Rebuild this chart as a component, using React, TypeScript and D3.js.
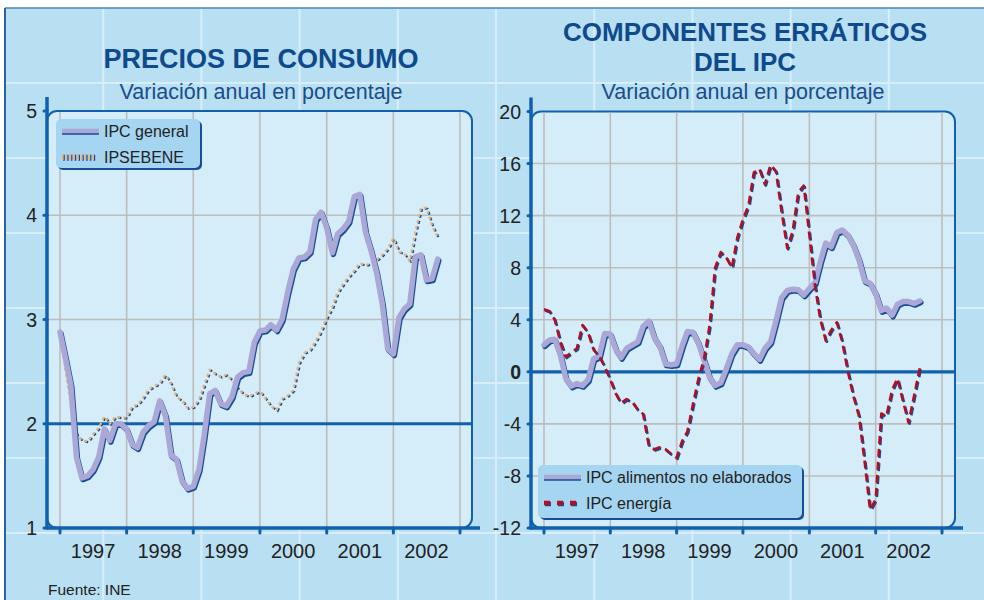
import React, { useRef, useEffect } from 'react';
import * as d3 from 'd3';

// Monthly data, Jan 1997 - Sep 2002 (annual % change)
const years = ['1997', '1998', '1999', '2000', '2001', '2002'];
const leftTicks = [1, 2, 3, 4, 5];
const rightTicks = [-12, -8, -4, 0, 4, 8, 12, 16, 20];

const ipcGeneral = [
  2.88, 2.62, 2.37, 1.68, 1.48, 1.5, 1.56, 1.68, 1.95, 1.84, 2.0, 2.0,
  1.95, 1.8, 1.77, 1.92, 1.98, 2.02, 2.22, 2.08, 1.7, 1.66, 1.45, 1.38,
  1.4, 1.56, 1.88, 2.29, 2.32, 2.19, 2.17, 2.26, 2.45, 2.49, 2.5, 2.78,
  2.89, 2.9, 2.95, 2.9, 3.0, 3.26, 3.48, 3.59, 3.6, 3.65, 3.96, 4.03,
  3.88, 3.64, 3.82, 3.87, 3.94, 4.18, 4.2, 3.84, 3.66, 3.45, 3.15, 2.72,
  2.67, 3.02, 3.1, 3.15, 3.6, 3.62, 3.38, 3.39, 3.58,
];

const ipsebene = [
  2.88, 2.5, 2.18, 1.9, 1.84, 1.83, 1.9, 1.96, 2.07, 2.0, 2.07, 2.06,
  2.06, 2.17, 2.18, 2.25, 2.33, 2.36, 2.39, 2.47, 2.38, 2.26, 2.22, 2.15,
  2.16, 2.23, 2.37, 2.52, 2.48, 2.45, 2.47, 2.42, 2.34, 2.29, 2.26, 2.29,
  2.31, 2.24, 2.17, 2.13, 2.24, 2.27, 2.32, 2.58, 2.68, 2.71, 2.79, 2.89,
  3.02, 3.12, 3.26, 3.34, 3.41, 3.47, 3.54, 3.52, 3.54, 3.57, 3.62, 3.68,
  3.78, 3.65, 3.63, 3.56, 3.84, 4.07, 4.07, 3.9, 3.79,
];

const ipcAlimentos = [
  2.08, 2.45, 2.5, 1.3, -0.5, -1.1, -0.9, -1.05, -0.6, 1.0, 1.2, 2.95,
  2.9, 1.7, 1.1, 1.8, 2.05, 2.3, 3.5, 3.9, 2.6, 1.95, 0.6, 0.54,
  0.6, 2.0, 3.1, 3.05, 2.2, 0.9, -0.4, -1.05, -0.85, 0.2, 1.4, 2.08,
  2.08, 1.9, 1.4, 0.95, 1.8, 2.3, 3.9, 5.7, 6.25, 6.35, 6.3, 5.9,
  6.4, 6.85, 8.4, 9.9, 9.6, 10.7, 10.9, 10.5, 9.7, 8.6, 7.0, 6.8,
  6.0, 4.7, 4.9, 4.35, 5.2, 5.4, 5.4, 5.25, 5.45,
];

const ipcEnergia = [
  4.8, 4.65, 4.0, 2.3, 1.15, 1.5, 1.8, 3.6, 3.0, 1.7, 1.2, 0.4,
  -0.6, -1.7, -2.4, -2.1, -2.3, -2.9, -3.25, -5.7, -5.95, -5.8, -5.95, -6.3,
  -6.6, -5.3, -4.6, -2.5, -0.55, 1.0, 3.5, 8.0, 9.2, 8.8, 8.0, 10.3,
  11.7, 12.8, 15.3, 15.6, 14.4, 15.9, 15.4, 12.3, 9.5, 10.8, 13.8, 14.3,
  10.5, 6.6, 4.1, 2.4, 3.2, 3.8, 2.3, 0.0, -1.9, -3.4, -6.9, -10.6,
  -9.8, -3.2, -3.4, -1.4, -0.5, -2.3, -3.9, -1.8, 0.3,
];

const months = ipcGeneral.map((_, i) => new Date(1997, i, 1));

export default function App() {
  const svgRef = useRef<SVGSVGElement>(null);

  useEffect(() => {
    const svg = d3.select(svgRef.current);
    const width = 984;
    const height = 600;
    const font = "'Liberation Sans', Arial, sans-serif";
    const axisBlue = '#1060ad';
    const navy = '#174c96';
    const lavender = '#aba8d8';

    svg.selectAll('*').remove();

    // page background + decorative grid
    svg.append('rect').attr('width', width).attr('height', height).attr('fill', '#fff');
    svg.append('rect')
      .attr('x', 5).attr('y', 8)
      .attr('width', width - 5).attr('height', height - 8)
      .attr('fill', '#b9dff3');
    const bg = svg.append('g');
    d3.range(1, 10).forEach(k => {
      bg.append('line')
        .attr('x1', 5 + 98.2 * k).attr('x2', 5 + 98.2 * k)
        .attr('y1', 9).attr('y2', height)
        .attr('stroke', '#d8effb').attr('stroke-width', 2);
    });
    d3.range(1, 8).forEach(k => {
      bg.append('line')
        .attr('x1', 6).attr('x2', width)
        .attr('y1', 8 + 75 * k).attr('y2', 8 + 75 * k)
        .attr('stroke', '#d8effb').attr('stroke-width', 2);
    });
    svg.append('line').attr('x1', 5).attr('x2', width).attr('y1', 8).attr('y2', 8)
      .attr('stroke', '#4f82b8').attr('stroke-width', 1.5);
    svg.append('line').attr('x1', 5).attr('x2', 5).attr('y1', 8).attr('y2', height)
      .attr('stroke', '#2a64a5').attr('stroke-width', 2);

    // line styles
    const drawSeries = (g, data, x, y, style) => {
      const line = d3.line<number>()
        .x((d, i) => x(months[i]))
        .y(d => y(d));
      const shadow = g.append('path').datum(data)
        .attr('d', line).attr('fill', 'none')
        .attr('stroke', navy).attr('stroke-linejoin', 'round');
      const main = g.append('path').datum(data)
        .attr('d', line).attr('fill', 'none').attr('stroke-linejoin', 'round');
      if (style === 'solid') {
        shadow.attr('stroke-width', 5.5).attr('transform', 'translate(1,1.6)').attr('stroke-linecap', 'round');
        main.attr('stroke', lavender).attr('stroke-width', 5.5).attr('stroke-linecap', 'round');
      } else if (style === 'dotted') {
        shadow.attr('stroke-width', 2.2).attr('stroke-dasharray', '3,3').attr('transform', 'translate(1.2,0.8)');
        main.attr('stroke', '#e6b37a').attr('stroke-width', 2.2).attr('stroke-dasharray', '3,3');
      } else {
        shadow.attr('stroke-width', 2.6).attr('stroke-dasharray', '8,5').attr('transform', 'translate(1,1.2)');
        main.attr('stroke', '#b10f22').attr('stroke-width', 2.6).attr('stroke-dasharray', '8,5');
      }
    };

    const drawPanel = (cfg) => {
      const { left, right, axisEnd, top, bottom, x, y, ticks, refValue, series } = cfg;
      const g = svg.append('g');

      g.append('rect')
        .attr('x', left).attr('y', top)
        .attr('width', right - left).attr('height', bottom - top)
        .attr('rx', 10)
        .attr('fill', '#d5ecf9')
        .attr('stroke', axisBlue).attr('stroke-width', 2);

      // grid
      g.selectAll('.vgrid')
        .data(d3.range(1997, 2004))
        .join('line')
        .attr('x1', d => x(new Date(d, 0, 1))).attr('x2', d => x(new Date(d, 0, 1)))
        .attr('y1', top + 1).attr('y2', bottom)
        .attr('stroke', '#bdbdbd').attr('stroke-width', 1.6);
      g.selectAll('.hgrid')
        .data(ticks.slice(1, -1))
        .join('line')
        .attr('x1', left).attr('x2', right - 1)
        .attr('y1', d => y(d)).attr('y2', d => y(d))
        .attr('stroke', '#bdbdbd').attr('stroke-width', 1.6);

      // reference line
      g.append('line')
        .attr('x1', left).attr('x2', right)
        .attr('y1', y(refValue)).attr('y2', y(refValue))
        .attr('stroke', axisBlue).attr('stroke-width', 3.2);

      series.forEach(s => drawSeries(g, s.data, x, y, s.style));

      // axes
      g.append('line')
        .attr('x1', left).attr('x2', left)
        .attr('y1', top - 14).attr('y2', bottom + 1.5)
        .attr('stroke', axisBlue).attr('stroke-width', 3.5);
      g.append('line')
        .attr('x1', left).attr('x2', axisEnd)
        .attr('y1', bottom).attr('y2', bottom)
        .attr('stroke', axisBlue).attr('stroke-width', 3.5);

      g.selectAll('.xtick')
        .data(d3.range(1997, 2004))
        .join('line')
        .attr('x1', d => x(new Date(d, 0, 1))).attr('x2', d => x(new Date(d, 0, 1)))
        .attr('y1', bottom).attr('y2', bottom + 5)
        .attr('stroke', axisBlue).attr('stroke-width', 3).attr('stroke-linecap', 'round');
      g.selectAll('.ytick')
        .data(ticks)
        .join('line')
        .attr('x1', left - 3).attr('x2', left)
        .attr('y1', d => y(d)).attr('y2', d => y(d))
        .attr('stroke', axisBlue).attr('stroke-width', 3).attr('stroke-linecap', 'round');

      g.selectAll('.ylabel')
        .data(ticks)
        .join('text')
        .attr('x', left - 10).attr('y', d => y(d))
        .attr('dy', '0.36em')
        .attr('text-anchor', 'end')
        .attr('font-family', font).attr('font-size', 19.5)
        .attr('font-weight', d => (d === 0 ? 'bold' : 'normal'))
        .attr('fill', '#222')
        .text(d => d);

      g.selectAll('.xlabel')
        .data(years)
        .join('text')
        .attr('x', d => x(new Date(+d, 6, 1)))
        .attr('y', bottom + 30)
        .attr('text-anchor', 'middle')
        .attr('font-family', font).attr('font-size', 20)
        .attr('fill', '#222')
        .text(d => d);
    };

    const legend = (bx, by, bw, bh, items) => {
      const g = svg.append('g');
      g.append('rect').attr('x', bx + 2).attr('y', by + 2).attr('width', bw).attr('height', bh)
        .attr('rx', 5).attr('fill', navy);
      g.append('rect').attr('x', bx).attr('y', by).attr('width', bw).attr('height', bh)
        .attr('rx', 5).attr('fill', '#a5d5f1');
      items.forEach(it => {
        const yy = it.y;
        if (it.style === 'solid') {
          g.append('line').attr('x1', bx + 6).attr('x2', bx + 43).attr('y1', yy + 1.6).attr('y2', yy + 1.6)
            .attr('stroke', navy).attr('stroke-width', 4.5);
          g.append('line').attr('x1', bx + 6).attr('x2', bx + 43).attr('y1', yy).attr('y2', yy)
            .attr('stroke', lavender).attr('stroke-width', 4.5);
        } else if (it.style === 'dotted') {
          g.append('line').attr('x1', bx + 7.2).attr('x2', bx + 40.2).attr('y1', yy + 0.8).attr('y2', yy + 0.8)
            .attr('stroke', navy).attr('stroke-width', 6).attr('stroke-dasharray', '1.6,2.2');
          g.append('line').attr('x1', bx + 6).attr('x2', bx + 39).attr('y1', yy).attr('y2', yy)
            .attr('stroke', '#e6b37a').attr('stroke-width', 6).attr('stroke-dasharray', '1.6,2.2');
        } else {
          g.append('line').attr('x1', bx + 7).attr('x2', bx + 44).attr('y1', yy + 1).attr('y2', yy + 1)
            .attr('stroke', navy).attr('stroke-width', 4.5).attr('stroke-dasharray', '6,7');
          g.append('line').attr('x1', bx + 6).attr('x2', bx + 43).attr('y1', yy).attr('y2', yy)
            .attr('stroke', '#b10f22').attr('stroke-width', 4.5).attr('stroke-dasharray', '6,7');
        }
        g.append('text')
          .attr('x', bx + 48).attr('y', yy + 6)
          .attr('font-family', font).attr('font-size', 16)
          .attr('fill', '#222')
          .text(it.label);
      });
    };

    // Left panel
    const xLeft = d3.scaleTime()
      .domain([new Date(1997, 0, 1), new Date(2003, 0, 1)])
      .range([60, 460]);
    const yLeft = d3.scaleLinear().domain([1, 5]).range([528, 111]);
    drawPanel({
      left: 47, right: 472, axisEnd: 480, top: 111, bottom: 528,
      x: xLeft, y: yLeft, ticks: leftTicks, refValue: 2,
      series: [
        { data: ipsebene, style: 'dotted' },
        { data: ipcGeneral, style: 'solid' },
      ],
    });
    legend(56, 119, 144, 49, [
      { y: 131, style: 'solid', label: 'IPC general' },
      { y: 157, style: 'dotted', label: 'IPSEBENE' },
    ]);

    // Right panel
    const xRight = d3.scaleTime()
      .domain([new Date(1997, 0, 1), new Date(2003, 0, 1)])
      .range([544, 942]);
    const yRight = d3.scaleLinear().domain([-12, 20]).range([528, 111.5]);
    drawPanel({
      left: 531, right: 955, axisEnd: 963, top: 111.5, bottom: 528,
      x: xRight, y: yRight, ticks: rightTicks, refValue: 0,
      series: [
        { data: ipcAlimentos, style: 'solid' },
        { data: ipcEnergia, style: 'dashed' },
      ],
    });
    legend(538, 465, 264, 53, [
      { y: 477, style: 'solid', label: 'IPC alimentos no elaborados' },
      { y: 503, style: 'dashed', label: 'IPC energía' },
    ]);

    // titles
    const titles = [
      { x: 261, y: 68, text: 'PRECIOS DE CONSUMO', size: 27, bold: true },
      { x: 261, y: 99, text: 'Variación anual en porcentaje', size: 21.5, bold: false },
      { x: 745, y: 41, text: 'COMPONENTES ERRÁTICOS', size: 26, bold: true },
      { x: 745, y: 70.5, text: 'DEL IPC', size: 26, bold: true },
      { x: 743, y: 99, text: 'Variación anual en porcentaje', size: 21.5, bold: false },
    ];
    svg.selectAll('.title')
      .data(titles)
      .join('text')
      .attr('x', d => d.x).attr('y', d => d.y)
      .attr('text-anchor', 'middle')
      .attr('font-family', font)
      .attr('font-size', d => d.size)
      .attr('font-weight', d => (d.bold ? 'bold' : 'normal'))
      .attr('fill', d => (d.bold ? '#0f4a8c' : '#1a4d88'))
      .text(d => d.text);

    svg.append('text')
      .attr('x', 48).attr('y', 595)
      .attr('font-family', font).attr('font-size', 15.5)
      .attr('fill', '#222')
      .text('Fuente: INE');
  }, []);

  return (
    <svg
      ref={svgRef}
      width={984}
      height={600}
      style={{ position: 'absolute', left: 0, top: 0 }}
    />
  );
}
